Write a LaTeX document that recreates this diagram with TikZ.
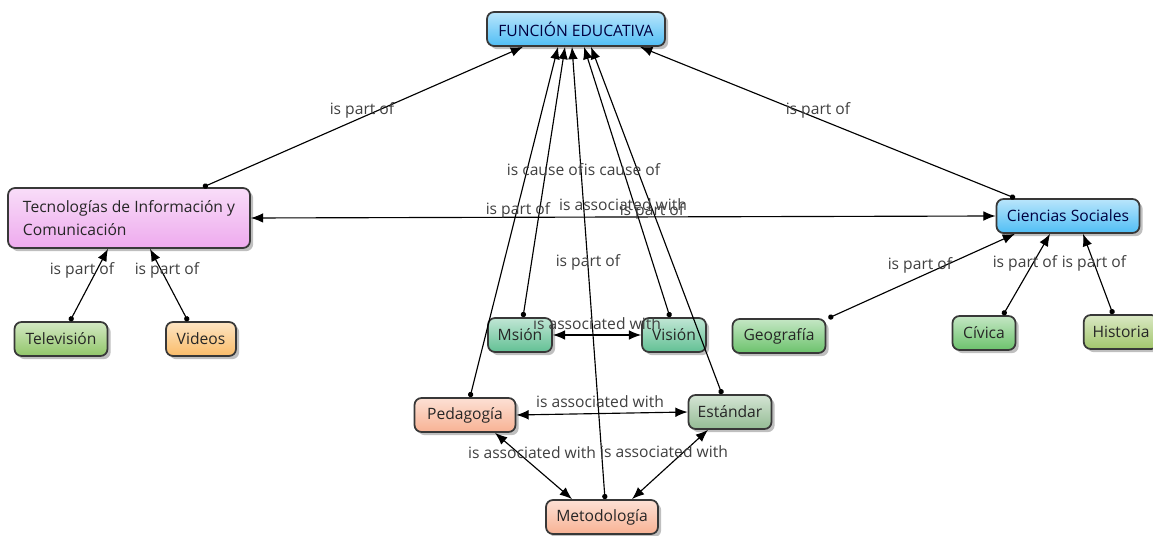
\documentclass[tikz,border=0pt]{standalone}
\usepackage{fontspec}
\setmainfont{Open Sans}
\usetikzlibrary{arrows.meta,shadows,calc}
\definecolor{cblue}{RGB}{80,190,245}
\definecolor{cpink}{RGB}{238,170,238}
\definecolor{cgreen}{RGB}{145,198,105}
\definecolor{corange}{RGB}{250,188,105}
\definecolor{cteal}{RGB}{98,192,148}
\definecolor{cleaf}{RGB}{108,194,108}
\definecolor{colive}{RGB}{162,198,108}
\definecolor{csalmon}{RGB}{248,178,148}
\definecolor{csage}{RGB}{148,188,148}
\tikzset{concept/.style={draw=black!78, line width=1pt, rounded corners=4pt,
    inner xsep=5pt, minimum height=0.68cm, text=black!85,
    font=\fontsize{8.9}{13}\selectfont,
    drop shadow={shadow xshift=1.8pt, shadow yshift=-1.8pt, opacity=0.5}}}
\tikzset{fillc/.style={top color=#1!40!white, bottom color=#1}}
\tikzset{arrow/.style={{Circle[length=3pt]}-{Latex[length=7pt,width=5.5pt]}, line width=0.65pt}}
\tikzset{both-arrow/.style={{Latex[length=7pt,width=5.5pt]}-{Latex[length=7pt,width=5.5pt]}, line width=0.65pt}}
\tikzset{link/.style={font=\fontsize{8.9}{11}\selectfont, text=black!75, inner sep=0pt}}

\begin{document}
\begin{tikzpicture}[x=0.02cm, y=-0.02cm]
      \path[use as bounding box, fill=white] (0,0) rectangle (1153,536);

      % concepts
      \node[concept, fillc=cblue, text=blue!25!black, minimum width=3.56cm] (fe) at (576,29) {FUNCIÓN EDUCATIVA};
      \node[concept, fillc=cpink, align=left, minimum width=4.84cm, minimum height=1.2cm] (tic) at (129,218)
        {Tecnologías de Información y\\Comunicación};
      \node[concept, fillc=cblue, text=blue!25!black, minimum width=2.86cm] (cs) at (1068,216) {Ciencias Sociales};
      \node[concept, fillc=cgreen, minimum width=1.86cm] (tele) at (61,339) {Televisión};
      \node[concept, fillc=corange, minimum width=1.4cm] (videos) at (201,339) {Videos};
      \node[concept, fillc=cteal, minimum width=1.28cm] (msion) at (520,335) {Msión};
      \node[concept, fillc=cteal, minimum width=1.28cm] (vision) at (674,335) {Visión};
      \node[concept, fillc=cleaf, minimum width=1.86cm] (geo) at (779,336) {Geografía};
      \node[concept, fillc=cleaf, minimum width=1.26cm] (civica) at (984,333) {Cívica};
      \node[concept, fillc=colive, minimum width=1.38cm] (hist) at (1121,332) {Historia};
      \node[concept, fillc=csalmon, minimum width=2.02cm] (ped) at (465,415) {Pedagogía};
      \node[concept, fillc=csage, minimum width=1.66cm] (est) at (730,412) {Estándar};
      \node[concept, fillc=csalmon, minimum width=2.24cm] (met) at (602,517) {Metodología};

      % links to FUNCION EDUCATIVA
      \draw[arrow] ($(tic.north)+(74,0)$) -- ($(fe.south)+(-53,0)$);
      \draw[arrow] ($(cs.north)+(-53,0)$) -- ($(fe.south)+(64,0)$);
      \draw[arrow] ($(ped.north)+(5,0)$) -- ($(fe.south)+(-18,0)$);
      \draw[arrow] ($(msion.north)+(3,0)$) -- ($(fe.south)+(-11,0)$);
      \draw[arrow] ($(met.north)+(3,0)$) -- ($(fe.south)+(-4,0)$);
      \draw[arrow] ($(vision.north)+(-4,0)$) -- ($(fe.south)+(8,0)$);
      \draw[arrow] ($(est.north)+(-8,0)$) -- ($(fe.south)+(15,0)$);
      \draw[both-arrow] (tic.east) -- (cs.west);

      % links to the two upper concepts
      \draw[arrow] ($(tele.north)+(9,0)$) -- ($(tic.south)+(-21,0)$);
      \draw[arrow] ($(videos.north)+(-13,0)$) -- ($(tic.south)+(21,0)$);
      \draw[arrow] ($(geo.north east)+(2,0)$) -- ($(cs.south)+(-53,0)$);
      \draw[arrow] ($(civica.north)+(19,0)$) -- ($(cs.south)+(-18,0)$);
      \draw[arrow] ($(hist.north)+(-8,0)$) -- ($(cs.south)+(15,0)$);

      % associations
      \draw[both-arrow] (msion.east) -- (vision.west);
      \draw[both-arrow] (ped.east) -- (est.west);
      \draw[both-arrow] ($(ped.south)+(30,0)$) -- ($(met.north)+(-30,0)$);
      \draw[both-arrow] ($(est.south)+(-22,0)$) -- ($(met.north)+(30,0)$);

      % link labels
      \node[link] (tic-fe) at (362,110) {is part of};
      \node[link] (cs-fe) at (818,110) {is part of};
      \node[link] (msion-fe) at (545,170) {is cause of};
      \node[link] (vision-fe) at (622,170) {is cause of};
      \node[link] (ped-fe) at (518,210) {is part of};
      \node[link] (tic-cs) at (623,205) {is associated with};
      \node[link] (est-fe) at (652,211) {is part of};
      \node[link] (met-fe) at (588,262) {is part of};
      \node[link] (tele-tic) at (82,270) {is part of};
      \node[link] (videos-tic) at (167,270) {is part of};
      \node[link] (geo-cs) at (920,265) {is part of};
      \node[link] (civica-cs) at (1025,263) {is part of};
      \node[link] (hist-cs) at (1094,263) {is part of};
      \node[link] (msion-vision) at (597,324) {is associated with};
      \node[link] (ped-est) at (600,402) {is associated with};
      \node[link] (ped-met) at (532,453) {is associated with};
      \node[link] (est-met) at (664,452) {is associated with};
    \end{tikzpicture}
\end{document}
